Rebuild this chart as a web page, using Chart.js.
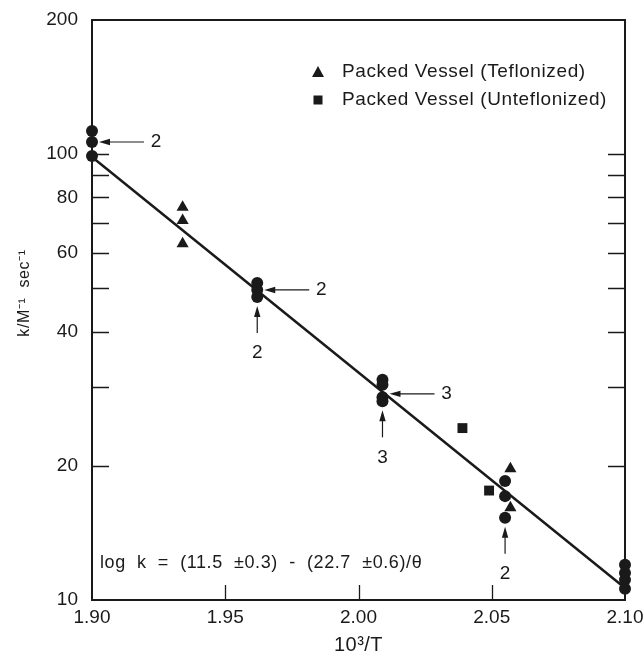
<!DOCTYPE html>
<html>
<head>
<meta charset="utf-8">
<script src="https://cdn.jsdelivr.net/npm/chart.js@4"></script>
<style>
  body { margin: 0; background: #fff; }
  #wrap { width: 644px; height: 667px; }
</style>
</head>
<body>
<div id="wrap"><canvas id="myChart" width="644" height="667"></canvas></div>
<script>
// x = 10^3/T, y = k / M^-1 sec^-1
const xTicks = [1.90, 1.95, 2.00, 2.05, 2.10];
const yTicks = [10, 20, 30, 40, 50, 60, 70, 80, 90, 100, 200];
const yLabels = [10, 20, 40, 60, 80, 100, 200];

const circleX = [1.900, 1.900, 1.900, 1.962, 1.962, 1.962, 2.009, 2.009, 2.009, 2.009, 2.055, 2.055, 2.055, 2.100, 2.100, 2.100, 2.100];
const circleK = [112.7, 106.5, 99.1, 51.4, 49.6, 47.8, 31.2, 30.4, 28.5, 27.9, 18.5, 17.1, 15.3, 12.0, 11.5, 11.1, 10.6];

const triangleX = [1.934, 1.934, 1.934, 2.057, 2.057];
const triangleK = [76.0, 71.0, 63.0, 19.7, 16.1];

const squareX = [2.039, 2.049];
const squareK = [24.3, 17.6];

const fitX = [1.90, 2.10];
const fitK = [98.6, 10.64];

// arrows pointing at coincident points: which point, from where, how many
const arrowX = [1.900, 1.962, 1.962, 2.009, 2.009, 2.055];
const arrowK = [106.5, 49.6, 47.8, 29.0, 27.9, 15.3];
const arrowSide = ['right', 'right', 'below', 'right', 'below', 'below'];
const arrowCount = ['2', '2', '2', '3', '3', '2'];

const equation = 'log  k  =  (11.5  \u00b10.3)  -  (22.7  \u00b10.6)/\u03b8';

function pts(xs, ys) {
    return xs.map(function (x, i) { return { x: x, y: ys[i] }; });
}

const FONT = '"Liberation Sans", Arial, sans-serif';
const INK = '#1a1a1a';

function arrowHead(ctx, x, y, dx, dy) {
    // tip at (x,y), pointing in direction (dx,dy)
    const len = 11, half = 3.2;
    ctx.beginPath();
    ctx.moveTo(x, y);
    ctx.lineTo(x - dx * len - dy * half, y - dy * len + dx * half);
    ctx.lineTo(x - dx * len + dy * half, y - dy * len - dx * half);
    ctx.closePath();
    ctx.fill();
}

const decor = {
    id: 'decor',
    afterDraw: function (chart) {
        const ctx = chart.ctx;
        const a = chart.chartArea;
        const xs = chart.scales.x, ys = chart.scales.y;
        ctx.save();
        ctx.strokeStyle = INK;
        ctx.fillStyle = INK;

        // frame
        ctx.lineWidth = 2;
        ctx.strokeRect(a.left, a.top, a.right - a.left, a.bottom - a.top);

        // inward tick marks
        ctx.lineWidth = 1.3;
        ctx.beginPath();
        yTicks.forEach(function (v) {
            if (v === 10 || v === 200) return;
            const py = Math.round(ys.getPixelForValue(v)) + 0.5;
            ctx.moveTo(a.left, py); ctx.lineTo(a.left + 17, py);
            ctx.moveTo(a.right, py); ctx.lineTo(a.right - 17, py);
        });
        xTicks.forEach(function (v, i) {
            if (i === 0 || i === xTicks.length - 1) return;
            const px = Math.round(xs.getPixelForValue(v)) + 0.5;
            ctx.moveTo(px, a.bottom); ctx.lineTo(px, a.bottom - 15);
        });
        ctx.stroke();

        // arrows with counts
        ctx.font = '19px ' + FONT;
        ctx.textAlign = 'center';
        ctx.textBaseline = 'middle';
        ctx.lineWidth = 1.2;
        arrowX.forEach(function (v, i) {
            const px = xs.getPixelForValue(v);
            const py = ys.getPixelForValue(arrowK[i]);
            if (arrowSide[i] === 'right') {
                const tip = px + 7, tail = px + 52;
                ctx.beginPath(); ctx.moveTo(tip + 5, py); ctx.lineTo(tail, py); ctx.stroke();
                arrowHead(ctx, tip, py, -1, 0);
                ctx.fillText(arrowCount[i], tail + 12, py);
            } else {
                const tip = py + 9, tail = py + 36;
                ctx.beginPath(); ctx.moveTo(px, tip + 5); ctx.lineTo(px, tail); ctx.stroke();
                arrowHead(ctx, px, tip, 0, -1);
                ctx.fillText(arrowCount[i], px, tail + 20);
            }
        });

        // legend
        ctx.font = '19px ' + FONT;
        ctx.letterSpacing = '0.6px';
        ctx.textAlign = 'left';
        const leg = [chart.data.datasets[1], chart.data.datasets[2]];
        leg.forEach(function (ds, i) {
            const ly = 72 + i * 28;
            const lx = 318;
            if (ds.pointStyle === 'triangle') {
                ctx.beginPath();
                ctx.moveTo(lx, ly - 6); ctx.lineTo(lx + 6, ly + 5); ctx.lineTo(lx - 6, ly + 5);
                ctx.closePath(); ctx.fill();
            } else {
                ctx.fillRect(lx - 4.5, ly - 4.5, 9, 9);
            }
            ctx.fillText(ds.label, 342, ly);
        });

        // equation
        ctx.font = '18px ' + FONT;
        ctx.fillText(equation, a.left + 8, 563);

        // axis titles
        ctx.letterSpacing = '0.5px';
        ctx.font = '20px ' + FONT;
        ctx.textAlign = 'center';
        ctx.fillText('10\u00b3/T', (a.left + a.right) / 2, 645);

        ctx.translate(25, (a.top + a.bottom) / 2 - 17);
        ctx.rotate(-Math.PI / 2);
        ctx.font = '16px ' + FONT;
        ctx.letterSpacing = '0.6px';
        ctx.fillText('k/M\u207b\u00b9  sec\u207b\u00b9', 0, 0);
        ctx.restore();
    }
};

var myChart = new Chart(
    document.getElementById('myChart'),
    {
        type: 'scatter',
        data: {
            datasets: [
                {
                    type: 'line',
                    label: 'fit',
                    data: pts(fitX, fitK),
                    borderColor: INK,
                    borderWidth: 2.5,
                    pointRadius: 0,
                    fill: false,
                    order: 5
                },
                {
                    label: 'Packed Vessel (Teflonized)',
                    data: pts(triangleX, triangleK),
                    pointStyle: 'triangle',
                    pointRadius: 7,
                    backgroundColor: INK,
                    borderColor: INK,
                    borderWidth: 0
                },
                {
                    label: 'Packed Vessel (Unteflonized)',
                    data: pts(squareX, squareK),
                    pointStyle: 'rect',
                    pointRadius: 7,
                    backgroundColor: INK,
                    borderColor: INK,
                    borderWidth: 0
                },
                {
                    label: 'Unpacked',
                    data: pts(circleX, circleK),
                    pointStyle: 'circle',
                    pointRadius: 6,
                    backgroundColor: INK,
                    borderColor: INK,
                    borderWidth: 0
                }
            ]
        },
        options: {
            responsive: false,
            animation: false,
            clip: false,
            layout: { padding: { top: 20, right: 19, left: 0, bottom: 0 } },
            plugins: {
                legend: { display: false },
                tooltip: { enabled: false }
            },
            scales: {
                x: {
                    type: 'linear',
                    min: 1.90,
                    max: 2.10,
                    afterBuildTicks: function (scale) {
                        scale.ticks = xTicks.map(function (v) { return { value: v }; });
                    },
                    afterFit: function (scale) {
                        scale.height = 67;
                        scale.paddingLeft = 0;
                        scale.paddingRight = 0;
                    },
                    ticks: {
                        autoSkip: false,
                        maxRotation: 0,
                        padding: 6,
                        color: INK,
                        font: { family: FONT, size: 19 },
                        callback: function (v) { return Number(v).toFixed(2); }
                    },
                    grid: { display: false, drawTicks: false },
                    border: { display: false }
                },
                y: {
                    type: 'logarithmic',
                    min: 10,
                    max: 200,
                    afterBuildTicks: function (scale) {
                        scale.ticks = yTicks.map(function (v) { return { value: v }; });
                    },
                    afterFit: function (scale) {
                        scale.width = 92;
                        scale.paddingTop = 0;
                        scale.paddingBottom = 0;
                    },
                    ticks: {
                        autoSkip: false,
                        padding: 14,
                        color: INK,
                        font: { family: FONT, size: 19 },
                        callback: function (v) { return yLabels.indexOf(v) >= 0 ? String(v) : ''; }
                    },
                    grid: { display: false, drawTicks: false },
                    border: { display: false }
                }
            }
        },
        plugins: [decor]
    }
);
</script>
</body>
</html>
